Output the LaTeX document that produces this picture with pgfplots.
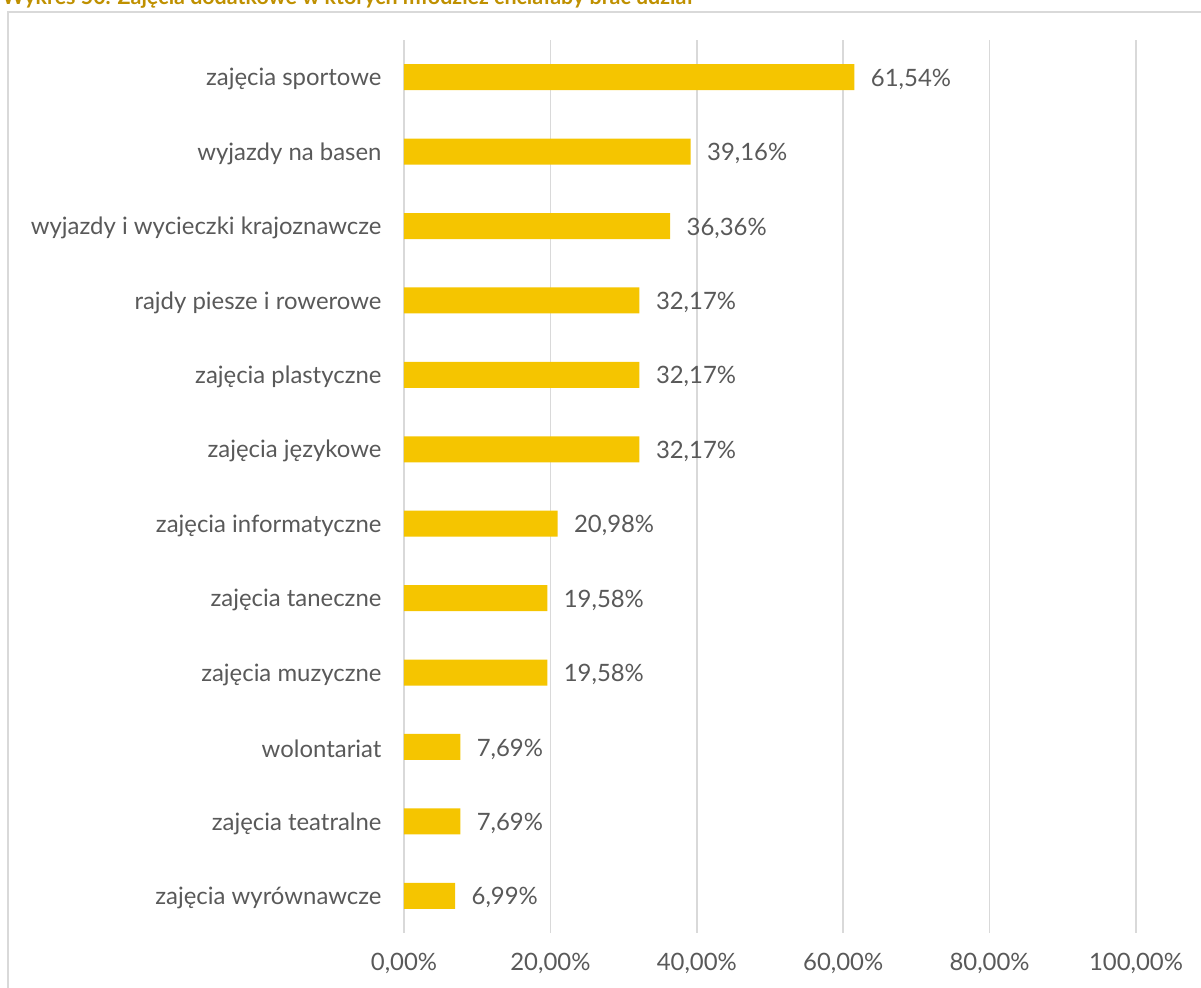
\documentclass[border=0pt]{standalone}
\usepackage{pgfplots}
\pgfplotsset{compat=1.18}
\usepackage{fontspec}
\setmainfont{Lato}
\definecolor{bargold}{HTML}{F5C500}
\definecolor{txtgray}{HTML}{595959}
\definecolor{gridgray}{HTML}{D9D9D9}
\definecolor{titlegold}{HTML}{BF9000}

\begin{document}
\begin{tikzpicture}
\useasboundingbox (0,0) rectangle (1201bp,988bp);
\clip (0,0) rectangle (1201bp,988bp);
% title, cut off at the top edge as in the source
\node[anchor=base west, inner sep=0pt, text=titlegold, font=\fontsize{21.5}{24}\selectfont\bfseries]
  at (2bp,983bp) {Wykres 50. Zajęcia dodatkowe w których młodzież chciałaby brać udział};
% chart frame
\draw[gridgray, line width=1.5bp] (8bp,-10bp) -- (8bp,976bp) -- (1215bp,976bp);
\begin{axis}[
  at={(404bp,55bp)}, anchor=south west,
  scale only axis, width=732bp, height=893bp,
  xbar, bar width=26bp,
  xmin=0, xmax=100,
  ymin=-0.5, ymax=11.5, y dir=reverse,
  axis line style={draw=none},
  major tick length=0pt,
  xmajorgrids, grid style={gridgray, line width=1.5bp},
  xtick={0,20,40,60,80,100},
  xticklabels={{0,00\%},{20,00\%},{40,00\%},{60,00\%},{80,00\%},{100,00\%}},
  ytick={0,...,11},
  yticklabels={zajęcia sportowe,wyjazdy na basen,wyjazdy i wycieczki krajoznawcze,rajdy piesze i rowerowe,zajęcia plastyczne,zajęcia językowe,zajęcia informatyczne,zajęcia taneczne,zajęcia muzyczne,wolontariat,zajęcia teatralne,zajęcia wyrównawcze},
  ticklabel style={font=\fontsize{24}{28}\selectfont, text=txtgray},
  yticklabel style={xshift=-19bp, yshift=-2bp},
  xticklabel style={yshift=-17bp},
  /pgf/number format/assume math mode=true,
  nodes near coords={\pgfmathprintnumber[fixed, fixed zerofill, precision=2, use comma]{\pgfplotspointmeta}\%},
  point meta=x,
  every node near coord/.append style={font=\fontsize{24}{28}\selectfont, text=txtgray, anchor=west, xshift=13bp, yshift=-2bp},
  clip=false,
]
\addplot[fill=bargold, draw=none] coordinates {
  (61.54,0) (39.16,1) (36.36,2) (32.17,3) (32.17,4) (32.17,5)
  (20.98,6) (19.58,7) (19.58,8) (7.69,9) (7.69,10) (6.99,11)
};
\end{axis}
\end{tikzpicture}
\end{document}
